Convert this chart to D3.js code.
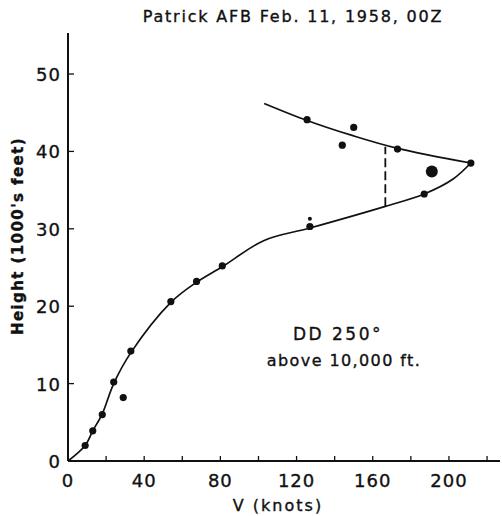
<!DOCTYPE html>
<html><head><meta charset="utf-8">
<script src="https://cdn.jsdelivr.net/npm/d3@7"></script>
<style>body{margin:0;background:#fff}svg{display:block}text{font-family:"DejaVu Sans",sans-serif;fill:#111;stroke:#111;stroke-width:0.35px}</style>
</head><body>
<script>
// Observed wind speed (knots) vs height (1000's ft)
const obsV = [9, 13, 18, 24, 29, 33, 54, 67.5, 81, 127, 187, 211.5, 173, 144, 150, 125.5];
const obsH = [2, 3.9, 6, 10.2, 8.2, 14.2, 20.6, 23.2, 25.2, 30.3, 34.5, 38.5, 40.3, 40.8, 43.1, 44.1];
const bigV = [191], bigH = [37.4];
const smallV = [127], smallH = [31.3];
// Fitted curve (lower branch and upper branch)
const lowerV = [0, 9, 13, 18, 24, 33, 54, 67.5, 81, 103, 127, 166.6, 187, 202, 211.5];
const lowerH = [0, 2, 3.9, 6.1, 10, 14, 20.5, 23.1, 25.1, 28.5, 30.1, 32.9, 34.5, 36.4, 38.5];
const upperV = [211.5, 173, 150, 125.5, 103];
const upperH = [38.5, 40.4, 42.0, 44.0, 46.2];
// Dashed marker
const dashV = [166.6, 166.6], dashH = [32.9, 40.6];
const xTicks = [0,20,40,60,80,100,120,140,160,180,200,220];
const xTickLabels = [0,40,80,120,160,200];
const yTicks = [0,10,20,30,40,50];

const W=502,H=516;
const svg=d3.select("body").append("svg").attr("width",W).attr("height",H);
const x=d3.scaleLinear().domain([0,226.8]).range([68,500]);
const y=d3.scaleLinear().domain([0,55.3]).range([461,33]);

// axes
const g=svg.append("g");
g.append("line").attr("x1",x(0)).attr("x2",x(226.8)).attr("y1",y(0)).attr("y2",y(0)).attr("stroke","#111").attr("stroke-width",2);
g.append("line").attr("x1",x(0)).attr("x2",x(0)).attr("y1",y(0)).attr("y2",y(55.3)).attr("stroke","#111").attr("stroke-width",2);
g.selectAll(".xt").data(xTicks).join("line").attr("x1",d=>x(d)).attr("x2",d=>x(d)).attr("y1",y(0)).attr("y2",y(0)-5).attr("stroke","#111").attr("stroke-width",1.3);
g.selectAll(".yt").data(yTicks).join("line").attr("x1",x(0)).attr("x2",x(0)+6).attr("y1",d=>y(d)).attr("y2",d=>y(d)).attr("stroke","#111").attr("stroke-width",1.3);
g.selectAll(".xl").data(xTickLabels).join("text").attr("x",d=>x(d)).attr("y",y(0)+26).attr("text-anchor","middle").attr("font-size",18).attr("letter-spacing",1).text(d=>d);
g.selectAll(".yl").data(yTicks).join("text").attr("x",x(0)-7).attr("y",d=>y(d)+7).attr("text-anchor","end").attr("font-size",18).attr("letter-spacing",1).text(d=>d);

// labels
svg.append("text").attr("x",293).attr("y",22).attr("text-anchor","middle").attr("font-size",16).attr("letter-spacing",1.8).text("Patrick  AFB  Feb. 11, 1958,  00Z");
svg.append("text").attr("x",278).attr("y",511).attr("text-anchor","middle").attr("font-size",16).attr("letter-spacing",2).text("V (knots)");
svg.append("text").attr("transform","translate(23,236) rotate(-90)").attr("text-anchor","middle").attr("font-size",15).attr("font-weight","bold").attr("letter-spacing",1.4).text("Height (1000's feet)");
svg.append("text").attr("x",338).attr("y",340).attr("text-anchor","middle").attr("font-size",17).attr("letter-spacing",2.5).text("DD 250°");
svg.append("text").attr("x",344).attr("y",366).attr("text-anchor","middle").attr("font-size",16).attr("letter-spacing",1.4).text("above 10,000 ft.");

// curves
const line=d3.line().x(d=>x(d[0])).y(d=>y(d[1])).curve(d3.curveCatmullRom.alpha(0.5));
svg.append("path").datum(lowerV.map((v,i)=>[v,lowerH[i]])).attr("d",line).attr("fill","none").attr("stroke","#111").attr("stroke-width",1.7);
svg.append("path").datum(upperV.map((v,i)=>[v,upperH[i]])).attr("d",line).attr("fill","none").attr("stroke","#111").attr("stroke-width",1.7);
svg.append("path").datum(dashV.map((v,i)=>[v,dashH[i]])).attr("d",d3.line().x(d=>x(d[0])).y(d=>y(d[1]))).attr("fill","none").attr("stroke","#111").attr("stroke-width",1.8).attr("stroke-dasharray","9,4");

// points
svg.selectAll(".pt").data(obsV.map((v,i)=>[v,obsH[i]])).join("circle").attr("cx",d=>x(d[0])).attr("cy",d=>y(d[1])).attr("r",3.6).attr("fill","#111");
svg.selectAll(".bp").data(bigV.map((v,i)=>[v,bigH[i]])).join("circle").attr("cx",d=>x(d[0])).attr("cy",d=>y(d[1])).attr("r",6).attr("fill","#111");
svg.selectAll(".sp").data(smallV.map((v,i)=>[v,smallH[i]])).join("circle").attr("cx",d=>x(d[0])).attr("cy",d=>y(d[1])).attr("r",2).attr("fill","#111");
</script>
</body></html>
